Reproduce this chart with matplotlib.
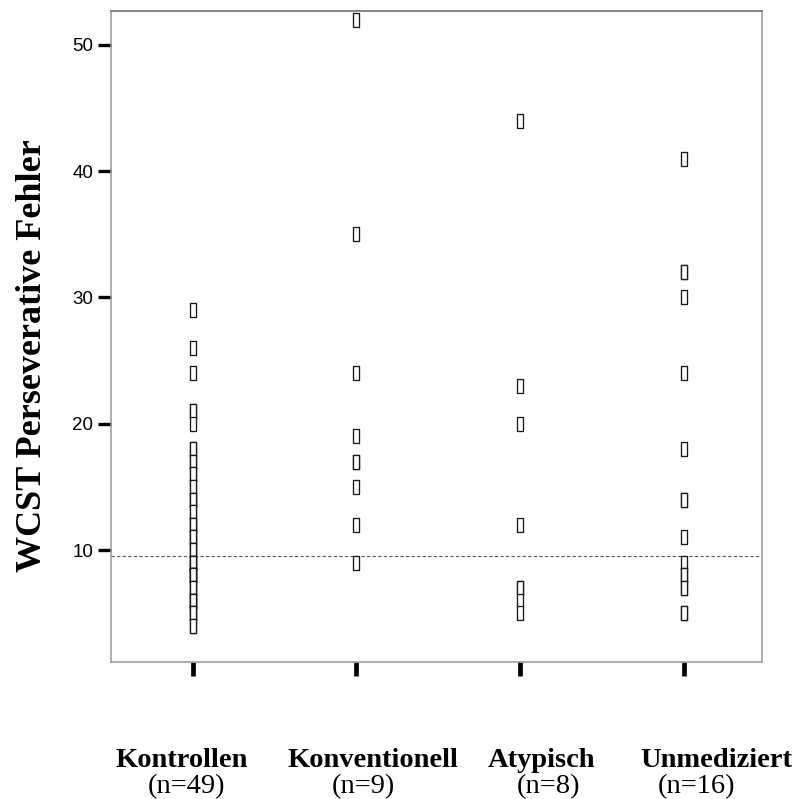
import matplotlib
matplotlib.use("Agg")
import matplotlib.pyplot as plt
import numpy as np

# ---- data ----
categories = ["Kontrollen", "Konventionell", "Atypisch", "Unmediziert"]
n_labels = ["(n=49)", "(n=9)", "(n=8)", "(n=16)"]
kontrollen = [29, 26, 24, 21, 21, 20, 18, 18, 17, 17, 16, 16, 15, 15,
              14, 14, 14, 13, 13, 12, 12, 12, 11, 11, 11, 10, 10, 10,
              9, 9, 9, 9, 8, 8, 8, 8, 8, 7, 7, 7, 6, 6, 6, 6, 5, 5, 5, 4, 4]
konventionell = [52, 35, 24, 19, 17, 17, 15, 12, 9]
atypisch = [44, 23, 20, 12, 7, 7, 6, 5]
unmediziert = [41, 32, 32, 30, 24, 18, 14, 14, 11, 9, 8, 8, 7, 7, 5, 5]
groups = [kontrollen, konventionell, atypisch, unmediziert]
reference_line = 9.5
yticks = [10, 20, 30, 40, 50]
ylabel = "WCST Perseverative Fehler"

W, H = 793, 799
fig = plt.figure(figsize=(W / 100, H / 100), dpi=100)
ax = fig.add_axes([110.7 / W, 1 - 662 / H, (762.3 - 110.7) / W, (662 - 11) / H])

rect = [(-0.22, -0.5), (0.22, -0.5), (0.22, 0.5), (-0.22, 0.5), (-0.22, -0.5)]
for i, vals in enumerate(groups):
    xs = np.full(len(vals), i + 1)
    ax.plot(xs, vals, linestyle="none", marker=rect, markersize=9.6,
            markerfacecolor="white", markeredgecolor="#1a1a1a",
            markeredgewidth=0.95, zorder=3)

ax.axhline(reference_line, color="#555555", lw=0.8, ls=(0, (3, 2)), zorder=2)

ax.set_xlim(0.5, 4.48)
ax.set_ylim(1.14, 52.68)
ax.set_yticks(yticks)
ax.set_yticklabels([str(t) for t in yticks], fontfamily="Liberation Sans", fontsize=13.5)
ax.set_xticks([1, 2, 3, 4])
ax.set_xticklabels([])
ax.tick_params(axis="y", direction="out", length=9.4, width=2.4, color="black", pad=3)
ax.tick_params(axis="x", direction="out", length=10, width=3.4, color="black")

for side in ["left", "bottom", "right"]:
    ax.spines[side].set_color("#999999")
    ax.spines[side].set_linewidth(1.1)
ax.spines["top"].set_color("#666666")
ax.spines["top"].set_linewidth(1.1)

fig.text(33 / W, 1 - 356 / H, ylabel, rotation=90, ha="center", va="center",
         fontfamily="Liberation Serif", fontweight="bold", fontsize=26)

cat_x = [182, 373, 542, None]
n_x = [186.7, 363, 549, 696.6]
for i, c in enumerate(categories):
    if cat_x[i] is None:
        fig.text(792 / W, 1 - 766.7 / H, c, ha="right", va="baseline",
                 fontfamily="Liberation Serif", fontweight="bold", fontsize=20.5)
    else:
        fig.text(cat_x[i] / W, 1 - 766.7 / H, c, ha="center", va="baseline",
                 fontfamily="Liberation Serif", fontweight="bold", fontsize=20.5)
for i, t in enumerate(n_labels):
    fig.text(n_x[i] / W, 1 - 793 / H, t, ha="center", va="baseline",
             fontfamily="Liberation Serif", fontsize=20.5)

fig.savefig("out.png", dpi=100)
